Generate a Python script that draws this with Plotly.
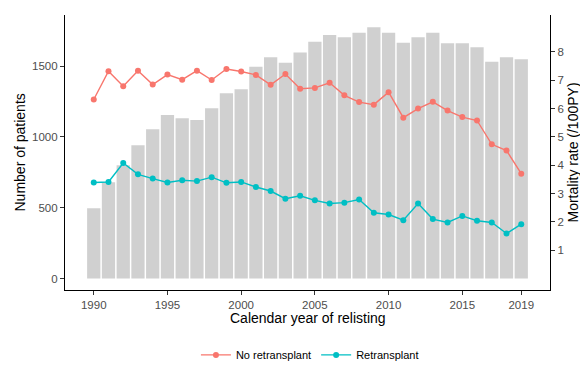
import plotly.graph_objects as go

years = list(range(1990, 2020))
patients = [496, 680, 800, 942, 1054, 1155, 1131, 1119, 1202, 1308,
            1336, 1496, 1562, 1524, 1597, 1672, 1720, 1703, 1736, 1774,
            1736, 1665, 1703, 1736, 1661, 1661, 1633, 1531, 1562, 1548]
no_retx = [6.32, 7.32, 6.79, 7.34, 6.85, 7.20, 7.02, 7.34, 7.01, 7.40,
           7.31, 7.19, 6.84, 7.22, 6.70, 6.73, 6.91, 6.47, 6.23, 6.14,
           6.58, 5.68, 6.00, 6.24, 5.93, 5.70, 5.58, 4.74, 4.52, 3.70]
retx = [3.39, 3.41, 4.08, 3.68, 3.53, 3.39, 3.47, 3.44, 3.58, 3.38,
        3.41, 3.23, 3.09, 2.82, 2.92, 2.76, 2.65, 2.68, 2.79, 2.32,
        2.26, 2.06, 2.65, 2.10, 1.98, 2.21, 2.04, 1.98, 1.59, 1.92]
x_ticks = [1990, 1995, 2000, 2005, 2010, 2015, 2019]
left_ticks = [0, 500, 1000, 1500]
right_ticks = [1, 2, 3, 4, 5, 6, 7, 8]

RED = "#F8766D"
TEAL = "#00BFC4"
FONT = "Liberation Sans, Arial, sans-serif"

fig = go.Figure()
fig.add_trace(go.Bar(x=years, y=patients, width=0.9, marker_color="#d0d0d0",
                     marker_line_width=0, showlegend=False, yaxis="y"))
fig.add_trace(go.Scatter(x=years, y=no_retx, mode="lines+markers", name="No retransplant",
                         line=dict(color=RED, width=1.4), marker=dict(color=RED, size=6),
                         yaxis="y2"))
fig.add_trace(go.Scatter(x=years, y=retx, mode="lines+markers", name="Retransplant",
                         line=dict(color=TEAL, width=1.4), marker=dict(color=TEAL, size=6),
                         yaxis="y2"))

axis_common = dict(showline=True, linecolor="black", linewidth=1.2, ticks="outside",
                   ticklen=4, tickcolor="#333333", showgrid=False, zeroline=False,
                   automargin=False,
                   tickfont=dict(family=FONT, size=11.5, color="#4d4d4d"))

fig.update_layout(
    width=580, height=365,
    margin=dict(l=65, r=30, t=15, b=75, autoexpand=False),
    plot_bgcolor="white", paper_bgcolor="white",
    font=dict(family=FONT),
    xaxis=dict(range=[1988.05, 2020.95], tickvals=x_ticks, **axis_common),
    yaxis=dict(range=[-81, 1861], tickvals=left_ticks, **axis_common),
    yaxis2=dict(range=[-0.405, 9.305], tickvals=right_ticks, overlaying="y", side="right",
                **axis_common),
    legend=dict(orientation="h", x=0.505, xanchor="center", y=-0.236, yanchor="middle",
                font=dict(family=FONT, size=11, color="black"), itemwidth=30),
    annotations=[
        dict(text="Number of patients", xref="paper", yref="paper", x=-0.0928, y=0.5,
             xanchor="center", yanchor="middle", textangle=-90, showarrow=False,
             font=dict(family=FONT, size=14, color="black")),
        dict(text="Mortality rate (/100PY)", xref="paper", yref="paper", x=1.0474, y=0.5,
             xanchor="center", yanchor="middle", textangle=-90, showarrow=False,
             font=dict(family=FONT, size=14, color="black")),
        dict(text="Calendar year of relisting", xref="paper", yref="paper", x=0.5, y=-0.102,
             xanchor="center", yanchor="middle", showarrow=False,
             font=dict(family=FONT, size=14, color="black")),
    ],
)

fig.write_html("out.html", config={"displayModeBar": False},
               post_script="document.body.style.margin='0';")
